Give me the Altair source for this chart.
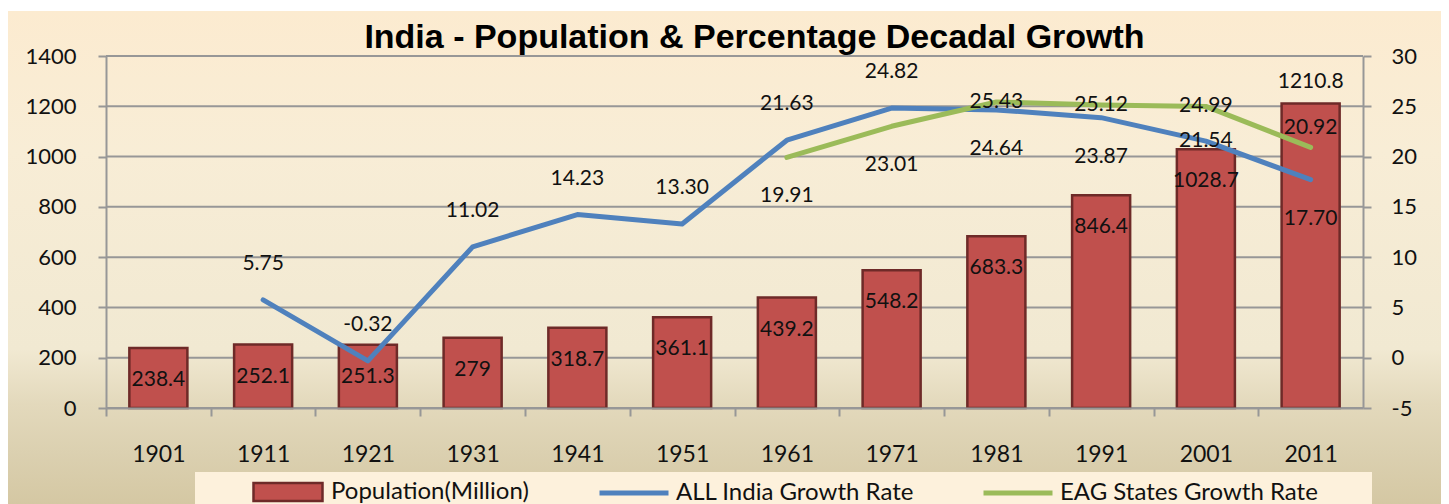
import altair as alt
import pandas as pd

# ---------------- data ----------------
years = ["1901", "1911", "1921", "1931", "1941", "1951",
         "1961", "1971", "1981", "1991", "2001", "2011"]
population = [238.4, 252.1, 251.3, 279, 318.7, 361.1,
              439.2, 548.2, 683.3, 846.4, 1028.7, 1210.8]
all_india_growth = [None, 5.75, -0.32, 11.02, 14.23, 13.30,
                    21.63, 24.82, 24.64, 23.87, 21.54, 17.70]
eag_growth = [None, None, None, None, None, None,
              19.91, 23.01, 25.43, 25.12, 24.99, 20.92]
left_ticks = [0, 200, 400, 600, 800, 1000, 1200, 1400]
right_ticks = [-5, 0, 5, 10, 15, 20, 25, 30]
bar_series = "Population(Million)"
line_series = ["ALL India Growth Rate", "EAG States Growth Rate"]
title_text = "India - Population & Percentage Decadal Growth"

# ---------------- styles ----------------
W, H = 1257, 352
GRID = "#979797"
BAR_FILL = "#C0504D"
BAR_EDGE = "#6E2A28"
BLUE = "#4F81BD"
GREEN = "#9BBB59"
TXT = "#111111"
FONT = "Lato"
PAD_IN, PAD_OUT = 0.446, 0.223
STEP = W / len(years)

# label placement (pixel offsets from the data point), per series/year
line_label_groups = [
    (-36, [(line_series[0], y) for y in ["1911", "1921", "1931", "1941", "1951", "1961", "1971"]]),
    (39, [(line_series[0], y) for y in ["1981", "1991", "2011"]]
         + [(line_series[1], y) for y in ["1961", "1971"]]),
    (0, [(line_series[0], "2001")]
        + [(line_series[1], y) for y in ["1981", "1991", "2001"]]),
    (-19, [(line_series[1], "2011")]),
]
bar_labels_above = ["2011"]

# ---------------- tables ----------------
bars_df = pd.DataFrame({
    "year": years,
    "population": population,
    "label": [f"{v:g}" for v in population],
    "bar_series": [bar_series] * len(years),
})
rows = []
for name, vals in zip(line_series, [all_india_growth, eag_growth]):
    for y, v in zip(years, vals):
        if v is not None:
            rows.append({"year": y, "series": name, "rate": v,
                         "label": f"{v:.2f}", "key": f"{name}|{y}"})
lines_df = pd.DataFrame(rows)
ticks_df = pd.DataFrame({"tick": left_ticks})

# ---------------- scales / axes ----------------
x_scale = alt.Scale(domain=years, paddingInner=PAD_IN, paddingOuter=PAD_OUT)
left_scale = alt.Scale(domain=[0, 1400], nice=False, zero=False)
right_scale = alt.Scale(domain=[-5, 30], nice=False, zero=False)

edge = PAD_OUT * STEP  # distance from band start back to the category boundary
x_axis = alt.Axis(orient="bottom", bandPosition=0, tickOffset=-edge, labelOffset=edge,
                  title=None, labelAngle=0,
                  domainColor=GRID, domainWidth=2, tickColor=GRID, tickWidth=2,
                  tickSize=8, labelFont=FONT, labelFontSize=23, labelColor=TXT,
                  labelPadding=27, zindex=2)
left_axis = alt.Axis(orient="left", values=left_ticks, title=None, grid=False,
                     labelExpr="'' + datum.value",
                     domainColor=GRID, domainWidth=2, tickColor=GRID, tickWidth=2,
                     tickSize=8, labelFont=FONT, labelFontSize=22, labelColor=TXT,
                     labelPadding=22, zindex=2)
right_axis = alt.Axis(orient="right", values=right_ticks, title=None, grid=False,
                      labelExpr="'' + datum.value",
                      domainColor=GRID, domainWidth=2, tickColor=GRID, tickWidth=2,
                      tickSize=8, labelFont=FONT, labelFontSize=22, labelColor=TXT,
                      labelPadding=20, zindex=2)

# same x definition (with its axis) in every layer so the axes merge
x_enc = alt.X("year:N", scale=x_scale, axis=x_axis)

# ---------------- decoration layers ----------------
panel = alt.Chart(alt.Data(values=[{"p": 1}])).mark_rect(
    fill=alt.LinearGradient(
        gradient="linear", x1=0, x2=0, y1=0, y2=1,
        stops=[
            alt.GradientStop(color="#FCEBD0", offset=0),
            alt.GradientStop(color="#F8EDD6", offset=0.28),
            alt.GradientStop(color="#F1E9D2", offset=0.68),
            alt.GradientStop(color="#E3D9BC", offset=0.79),
            alt.GradientStop(color="#DBD0B0", offset=0.89),
            alt.GradientStop(color="#D4C7A2", offset=1),
        ],
    )
).encode(x=alt.value(-100), x2=alt.value(W + 80), y=alt.value(-45), y2=alt.value(H + 100))

legend_box = alt.Chart(alt.Data(values=[{"p": 1}])).mark_rect(fill="#FDF1DC").encode(
    x=alt.value(89), x2=alt.value(1266), y=alt.value(416), y2=alt.value(H + 100)
)

grid = alt.Chart(ticks_df).mark_rule(color=GRID, strokeWidth=2).encode(
    y=alt.Y("tick:Q", scale=left_scale, axis=None)
)

# ---------------- bars ----------------
bars = alt.Chart(bars_df).mark_bar(stroke=BAR_EDGE, strokeWidth=2.5).encode(
    x=x_enc,
    y=alt.Y("population:Q", scale=left_scale, axis=left_axis),
    fill=alt.Fill(
        "bar_series:N",
        scale=alt.Scale(domain=[bar_series], range=[BAR_FILL]),
        legend=alt.Legend(
            title=None, orient="none", legendX=146, legendY=400, padding=0,
            symbolType="M-1,-0.26H1V0.26H-1Z", symbolSize=4761,
            symbolStrokeColor=BAR_EDGE, symbolStrokeWidth=2.5,
            labelFont=FONT, labelFontSize=24, labelColor=TXT,
            labelOffset=7, labelLimit=500,
        ),
    ),
)

bar_labels_in = alt.Chart(bars_df).mark_text(
    font=FONT, fontSize=21, color=TXT, baseline="middle", dy=32
).encode(
    x=x_enc, y=alt.Y("population:Q", scale=left_scale, axis=None), text="label:N"
).transform_filter(~alt.FieldOneOfPredicate(field="year", oneOf=bar_labels_above))

bar_labels_out = alt.Chart(bars_df).mark_text(
    font=FONT, fontSize=21, color=TXT, baseline="middle", dy=-22
).encode(
    x=x_enc, y=alt.Y("population:Q", scale=left_scale, axis=None), text="label:N"
).transform_filter(alt.FieldOneOfPredicate(field="year", oneOf=bar_labels_above))

# ---------------- lines ----------------
lines = alt.Chart(lines_df).mark_line(
    strokeWidth=5, strokeCap="round", strokeJoin="round"
).encode(
    x=x_enc,
    y=alt.Y("rate:Q", scale=right_scale, axis=right_axis),
    stroke=alt.Stroke(
        "series:N",
        scale=alt.Scale(domain=line_series, range=[BLUE, GREEN]),
        legend=alt.Legend(
            title=None, orient="none", legendX=491, legendY=400, padding=0,
            direction="horizontal", symbolType="stroke", symbolSize=4761,
            symbolStrokeWidth=5, labelFont=FONT, labelFontSize=24,
            labelColor=TXT, labelOffset=5, labelLimit=500, columnPadding=58,
        ),
    ),
    detail="series:N",
)

label_layers = []
for dy, pairs in line_label_groups:
    keys = [f"{s}|{y}" for s, y in pairs]
    label_layers.append(
        alt.Chart(lines_df).mark_text(
            font=FONT, fontSize=21, color=TXT, baseline="middle", dy=dy
        ).encode(
            x=x_enc,
            y=alt.Y("rate:Q", scale=right_scale, axis=None),
            text="label:N",
        ).transform_filter(alt.FieldOneOfPredicate(field="key", oneOf=keys))
    )

chart = alt.layer(
    panel, legend_box, grid, bars, bar_labels_in, bar_labels_out, lines, *label_layers
).resolve_scale(y="independent").properties(
    width=W,
    height=H,
    autosize=alt.AutoSizeParams(type="none"),
    padding={"left": 98, "top": 48, "right": 78, "bottom": 96},
    background="white",
    title=alt.TitleParams(
        text=title_text, font="Liberation Sans", fontSize=34, fontWeight="bold",
        color="#000000", anchor="middle", dx=20, offset=-44, zindex=3,
    ),
).configure_view(stroke=None).configure_axis(zindex=2)

chart.save("out.html", embed_options={"renderer": "svg", "actions": False})
